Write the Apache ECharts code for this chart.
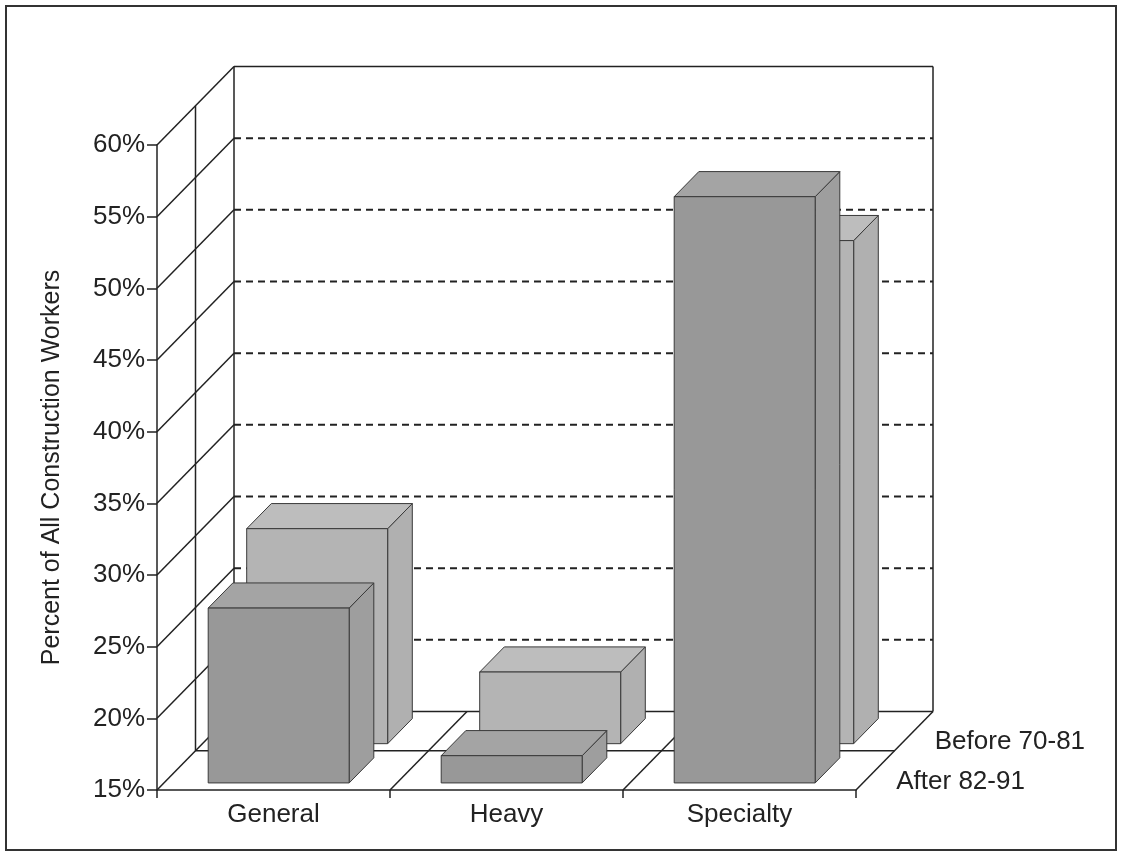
<!DOCTYPE html>
<html>
<head>
<meta charset="utf-8">
<script src="https://cdn.jsdelivr.net/npm/echarts/dist/echarts.min.js"></script>
<style>
html, body { margin: 0; padding: 0; background: #fff; }
#main { width: 1122px; height: 856px; }
</style>
</head>
<body>
<div id="main"></div>
<script>
// data
var categories = ['General', 'Heavy', 'Specialty'];
var rows = ['After 82-91', 'Before 70-81'];   // front row, back row
var afterVals = [27.2, 16.9, 55.9];
var beforeVals = [30, 20, 50.1];
var yTicks = [15, 20, 25, 30, 35, 40, 45, 50, 55, 60];

// fake 3d: depth vector in pixels for full depth
var DX = 77, DY = -78.5;
var FONT = '"Liberation Sans", Arial, sans-serif';
var INK = '#222';

function shift(p, d) {
	return [p[0] + DX * d, p[1] + DY * d];
}

function seg(list, a, b, style) {
	list.push({
		type: 'line',
		shape: { x1: a[0], y1: a[1], x2: b[0], y2: b[1] },
		style: style
	});
}

// walls, floor, gridlines
function renderFrame(params, api) {
	var kids = [];
	var ln = { stroke: INK, lineWidth: 1.5 };
	var dash = { stroke: INK, lineWidth: 2, lineDash: [7, 5] };
	var yMin = yTicks[0], yMax = yTicks[yTicks.length - 1];
	var bw = api.size([1, 0])[0];
	var x0 = api.coord([0, yMin])[0] - bw / 2;
	var x1 = api.coord([categories.length - 1, yMin])[0] + bw / 2;
	var yb = api.coord([0, yMin])[1];
	var yt = api.coord([0, yMax])[1];

	// back wall
	var bl = shift([x0, yb], 1), br = shift([x1, yb], 1);
	var tl = shift([x0, yt], 1), tr = shift([x1, yt], 1);
	seg(kids, bl, tl, ln);
	seg(kids, tl, tr, ln);
	seg(kids, tr, br, ln);
	seg(kids, bl, br, ln);

	// dashed gridlines on back wall
	for (var i = 1; i < yTicks.length - 1; i++) {
		var y = api.coord([0, yTicks[i]])[1];
		seg(kids, shift([x0, y], 1), shift([x1, y], 1), dash);
	}
	// left wall diagonals
	for (var j = 0; j < yTicks.length; j++) {
		var yy = api.coord([0, yTicks[j]])[1];
		seg(kids, [x0, yy], shift([x0, yy], 1), ln);
	}
	// middle divider of the two rows
	seg(kids, shift([x0, yb], 0.5), shift([x0, yt], 0.5), ln);
	seg(kids, shift([x0, yb], 0.5), shift([x1, yb], 0.5), ln);

	// floor diagonals at category borders
	for (var k = 1; k <= categories.length; k++) {
		var xx = x0 + bw * k;
		seg(kids, [xx, yb], shift([xx, yb], 1), ln);
	}

	// row names on the depth edge
	for (var r = 0; r < rows.length; r++) {
		var p = shift([x1, yb], 0.25 + 0.5 * r);
		kids.push({
			type: 'text',
			x: p[0] + 21,
			y: p[1] + 11,
			style: {
				text: rows[r],
				fontSize: 26,
				fontFamily: FONT,
				fill: INK,
				align: 'left',
				verticalAlign: 'middle'
			}
		});
	}
	return { type: 'group', children: kids };
}

var rowColors = [
	{ face: '#989898', top: '#a4a4a4', side: '#9e9e9e' },
	{ face: '#b4b4b4', top: '#bdbdbd', side: '#b0b0b0' }
];

function boxRender(r) {
	return function (params, api) {
		var c = api.value(0), v = api.value(1);
		var bw = api.size([1, 0])[0];
		var left = api.coord([c, v])[0] - bw / 2;
		var yTop = api.coord([c, v])[1];
		var yBase = api.coord([c, yTicks[0]])[1];
		var xl = left + bw * 0.19, xr = left + bw * 0.795;
		var d0 = 0.09 + 0.5 * r, d1 = 0.41 + 0.5 * r;

		var fbl = shift([xl, yBase], d0), fbr = shift([xr, yBase], d0);
		var ftl = shift([xl, yTop], d0), ftr = shift([xr, yTop], d0);
		var btl = shift([xl, yTop], d1), btr = shift([xr, yTop], d1);
		var bbr = shift([xr, yBase], d1);
		var col = rowColors[r];
		var edge = '#3a3a3a';

		return {
			type: 'group',
			children: [
				{ type: 'polygon', shape: { points: [ftr, btr, bbr, fbr] }, style: { fill: col.side, stroke: edge, lineWidth: 1 } },
				{ type: 'polygon', shape: { points: [ftl, ftr, btr, btl] }, style: { fill: col.top, stroke: edge, lineWidth: 1 } },
				{ type: 'polygon', shape: { points: [ftl, ftr, fbr, fbl] }, style: { fill: col.face, stroke: edge, lineWidth: 1 } }
			]
		};
	};
}

function pairs(vals) {
	var out = [];
	for (var i = 0; i < vals.length; i++) out.push([i, vals[i]]);
	return out;
}

var myChart = echarts.init(document.getElementById('main'));

var option = {
	animation: false,
	backgroundColor: '#fff',
	graphic: [{
		type: 'rect',
		shape: { x: 6, y: 6, width: 1110, height: 844 },
		style: { fill: 'none', stroke: '#333', lineWidth: 2 },
		silent: true
	}],
	grid: {
		left: 157,
		right: 266,
		top: 145,
		bottom: 66,
		outerBoundsMode: 'none'
	},
	xAxis: {
		type: 'category',
		data: categories,
		boundaryGap: true,
		axisLine: { lineStyle: { color: INK, width: 1.5 } },
		axisTick: { show: true, length: 8, lineStyle: { color: INK, width: 1.5 } },
		axisLabel: { color: INK, fontSize: 26, fontFamily: FONT, margin: 12 },
		splitLine: { show: false }
	},
	yAxis: {
		type: 'value',
		min: yTicks[0],
		max: yTicks[yTicks.length - 1],
		interval: 5,
		name: 'Percent of All Construction Workers',
		nameLocation: 'middle',
		nameGap: 92,
		nameTextStyle: { color: INK, fontSize: 25, fontFamily: FONT },
		axisLine: { show: true, lineStyle: { color: INK, width: 1.5 } },
		axisTick: { show: true, length: 10, lineStyle: { color: INK, width: 1.5 } },
		axisLabel: { color: INK, fontSize: 26, fontFamily: FONT, margin: 12, formatter: '{value}%' },
		splitLine: { show: false }
	},
	series: [
		{
			type: 'custom',
			name: 'frame',
			clip: false,
			silent: true,
			z: 1,
			renderItem: renderFrame,
			data: [[0, yTicks[0]]]
		},
		{
			type: 'custom',
			name: rows[1],
			clip: false,
			z: 2,
			renderItem: boxRender(1),
			data: pairs(beforeVals)
		},
		{
			type: 'custom',
			name: rows[0],
			clip: false,
			z: 3,
			renderItem: boxRender(0),
			data: pairs(afterVals)
		}
	]
};

myChart.setOption(option);
</script>
</body>
</html>
